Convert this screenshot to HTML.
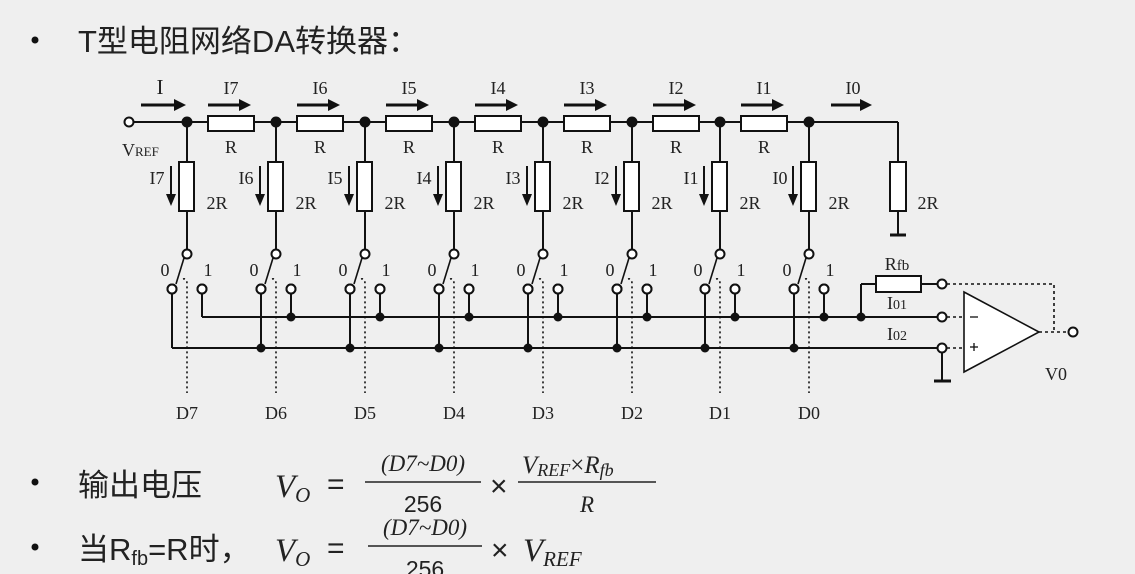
<!DOCTYPE html>
<html><head><meta charset="utf-8"><style>
html,body{margin:0;padding:0;background:#efefef;}
body{width:1135px;height:574px;overflow:hidden;position:relative;}
svg{position:absolute;left:0;top:0;}
.t{font-family:"Liberation Serif","Noto Serif CJK SC",serif;font-size:18px;fill:#222;}
.cn{font-family:"Liberation Sans","Noto Sans CJK SC",sans-serif;fill:#222;}
.m{font-family:"Liberation Serif",serif;font-style:italic;fill:#222;}
</style></head><body>
<svg width="1135" height="574" viewBox="0 0 1135 574">
<defs>
<g id="col" stroke="#111" stroke-width="2" fill="none">
  <line x1="0" y1="122" x2="0" y2="162"/>
  <rect x="-8" y="162" width="15" height="49" fill="#fff"/>
  <line x1="0" y1="211" x2="0" y2="250"/>
  <circle cx="0" cy="254" r="4.5" fill="#fff"/>
  <line x1="-3" y1="258" x2="-11" y2="284" stroke-width="1.6"/>
  <circle cx="-15" cy="289" r="4.5" fill="#fff"/>
  <circle cx="15" cy="289" r="4.5" fill="#fff"/>
  <path d="M-4,279 Q0,278 0,284 L0,393" stroke-dasharray="2,3" stroke-width="1.6"/>
  <line x1="-16" y1="166" x2="-16" y2="198"/>
  <polygon points="-21,194 -11,194 -16,206" fill="#111" stroke="none"/>
  <circle cx="0" cy="122" r="4.5" fill="#111"/>
</g>
<g id="ser" stroke="#111" stroke-width="2" fill="none">
  <rect x="21" y="116" width="46" height="15" fill="#fff"/>
  <line x1="21" y1="105" x2="54" y2="105" stroke-width="3"/>
  <polygon points="52,99 52,111 64,105" fill="#111" stroke="none"/>
</g>
</defs>

<circle cx="35" cy="40" r="3.5" fill="#111"/>
<text x="78" y="52" class="cn" font-size="31">T型电阻网络DA转换器：</text>

<g stroke="#111" stroke-width="2" fill="none">
<line x1="133" y1="122" x2="898" y2="122"/>
<line x1="898" y1="122" x2="898" y2="162"/>
<rect x="890" y="162" width="16" height="49" fill="#fff"/>
<line x1="898" y1="211" x2="898" y2="235"/>
<line x1="890" y1="235" x2="906" y2="235" stroke-width="3"/>
<circle cx="129" cy="122" r="4.5" fill="#fff"/>
<line x1="141" y1="105" x2="176" y2="105" stroke-width="3"/>
<line x1="831" y1="105" x2="862" y2="105" stroke-width="3"/>
<line x1="202" y1="294" x2="202" y2="317"/>
<line x1="202" y1="317" x2="938" y2="317"/>
<line x1="172" y1="294" x2="172" y2="348"/>
<line x1="172" y1="348" x2="938" y2="348"/>
<line x1="861" y1="317" x2="861" y2="284"/>
<line x1="861" y1="284" x2="876" y2="284"/>
<rect x="876" y="276" width="45" height="16" fill="#fff"/>
<line x1="921" y1="284" x2="938" y2="284"/>
<circle cx="942" cy="284" r="4.5" fill="#fff"/>
<circle cx="942" cy="317" r="4.5" fill="#fff"/>
<circle cx="942" cy="348" r="4.5" fill="#fff"/>
<line x1="942" y1="353" x2="942" y2="381"/>
<line x1="934" y1="381" x2="951" y2="381" stroke-width="3"/>
<polygon points="964,292 964,372 1039,332" fill="#fff" stroke-width="1.6"/>
<g stroke-dasharray="3,3" stroke-width="1.6">
<line x1="947" y1="317" x2="964" y2="317"/>
<line x1="947" y1="348" x2="964" y2="348"/>
<line x1="1039" y1="332" x2="1068" y2="332"/>
<polyline points="947,284 1054,284 1054,332"/>
</g>
<circle cx="1073" cy="332" r="4.5" fill="#fff"/>
<line x1="970" y1="317" x2="978" y2="317" stroke-width="1.3"/>
<line x1="970" y1="347" x2="978" y2="347" stroke-width="1.3"/>
<line x1="974" y1="343" x2="974" y2="351" stroke-width="1.3"/>
</g>
<polygon points="174,99 174,111 186,105" fill="#111"/>
<polygon points="860,99 860,111 872,105" fill="#111"/>

<use href="#col" x="187"/><use href="#col" x="276"/><use href="#col" x="365"/><use href="#col" x="454"/>
<use href="#col" x="543"/><use href="#col" x="632"/><use href="#col" x="720"/><use href="#col" x="809"/>
<use href="#ser" x="187"/><use href="#ser" x="276"/><use href="#ser" x="365"/><use href="#ser" x="454"/>
<use href="#ser" x="543"/><use href="#ser" x="632"/><use href="#ser" x="720"/>
<g stroke="#111" stroke-width="2">
<line x1="261" y1="294" x2="261" y2="348"/><line x1="291" y1="294" x2="291" y2="317"/>
<line x1="350" y1="294" x2="350" y2="348"/><line x1="380" y1="294" x2="380" y2="317"/>
<line x1="439" y1="294" x2="439" y2="348"/><line x1="469" y1="294" x2="469" y2="317"/>
<line x1="528" y1="294" x2="528" y2="348"/><line x1="558" y1="294" x2="558" y2="317"/>
<line x1="617" y1="294" x2="617" y2="348"/><line x1="647" y1="294" x2="647" y2="317"/>
<line x1="705" y1="294" x2="705" y2="348"/><line x1="735" y1="294" x2="735" y2="317"/>
<line x1="794" y1="294" x2="794" y2="348"/><line x1="824" y1="294" x2="824" y2="317"/>
</g>
<g fill="#111">
<circle cx="261" cy="348" r="4.5"/><circle cx="291" cy="317" r="4.5"/>
<circle cx="350" cy="348" r="4.5"/><circle cx="380" cy="317" r="4.5"/>
<circle cx="439" cy="348" r="4.5"/><circle cx="469" cy="317" r="4.5"/>
<circle cx="528" cy="348" r="4.5"/><circle cx="558" cy="317" r="4.5"/>
<circle cx="617" cy="348" r="4.5"/><circle cx="647" cy="317" r="4.5"/>
<circle cx="705" cy="348" r="4.5"/><circle cx="735" cy="317" r="4.5"/>
<circle cx="794" cy="348" r="4.5"/><circle cx="824" cy="317" r="4.5"/>
<circle cx="861" cy="317" r="4.5"/>
</g>
<g fill="#fff" stroke="#111" stroke-width="2">
<circle cx="172" cy="289" r="4.5"/><circle cx="202" cy="289" r="4.5"/>
<circle cx="261" cy="289" r="4.5"/><circle cx="291" cy="289" r="4.5"/>
<circle cx="350" cy="289" r="4.5"/><circle cx="380" cy="289" r="4.5"/>
<circle cx="439" cy="289" r="4.5"/><circle cx="469" cy="289" r="4.5"/>
<circle cx="528" cy="289" r="4.5"/><circle cx="558" cy="289" r="4.5"/>
<circle cx="617" cy="289" r="4.5"/><circle cx="647" cy="289" r="4.5"/>
<circle cx="705" cy="289" r="4.5"/><circle cx="735" cy="289" r="4.5"/>
<circle cx="794" cy="289" r="4.5"/><circle cx="824" cy="289" r="4.5"/>
</g>

<g class="t" text-anchor="middle">
<text x="160" y="94" font-size="21">I</text>
<text x="231" y="94">I7</text><text x="320" y="94">I6</text><text x="409" y="94">I5</text><text x="498" y="94">I4</text>
<text x="587" y="94">I3</text><text x="676" y="94">I2</text><text x="764" y="94">I1</text><text x="853" y="94">I0</text>
<text x="231" y="153">R</text><text x="320" y="153">R</text><text x="409" y="153">R</text><text x="498" y="153">R</text>
<text x="587" y="153">R</text><text x="676" y="153">R</text><text x="764" y="153">R</text>
<text x="157" y="184">I7</text><text x="246" y="184">I6</text><text x="335" y="184">I5</text><text x="424" y="184">I4</text>
<text x="513" y="184">I3</text><text x="602" y="184">I2</text><text x="691" y="184">I1</text><text x="780" y="184">I0</text>
<text x="217" y="209">2R</text><text x="306" y="209">2R</text><text x="395" y="209">2R</text><text x="484" y="209">2R</text>
<text x="573" y="209">2R</text><text x="662" y="209">2R</text><text x="750" y="209">2R</text><text x="839" y="209">2R</text>
<text x="928" y="209">2R</text>
<text x="165" y="276">0</text><text x="208" y="276">1</text><text x="254" y="276">0</text><text x="297" y="276">1</text>
<text x="343" y="276">0</text><text x="386" y="276">1</text><text x="432" y="276">0</text><text x="475" y="276">1</text>
<text x="521" y="276">0</text><text x="564" y="276">1</text><text x="610" y="276">0</text><text x="653" y="276">1</text>
<text x="698" y="276">0</text><text x="741" y="276">1</text><text x="787" y="276">0</text><text x="830" y="276">1</text>
<text x="187" y="419">D7</text><text x="276" y="419">D6</text><text x="365" y="419">D5</text><text x="454" y="419">D4</text>
<text x="543" y="419">D3</text><text x="632" y="419">D2</text><text x="720" y="419">D1</text><text x="809" y="419">D0</text>
<text x="897" y="270">R<tspan font-size="15">fb</tspan></text>
<text x="897" y="309">I<tspan font-size="14">01</tspan></text>
<text x="897" y="340">I<tspan font-size="14">02</tspan></text>
<text x="1056" y="380">V0</text>
</g>
<text x="122" y="156" class="t" font-size="21">V<tspan font-size="13">REF</tspan></text>

<circle cx="35" cy="482" r="3.5" fill="#111"/>
<text x="78" y="496" class="cn" font-size="31">输出电压</text>
<text x="275" y="497" class="m" font-size="33">V<tspan font-size="21" dy="5">O</tspan></text>
<text x="327" y="494" class="cn" font-size="30">=</text>
<text x="423" y="471" class="m" font-size="23" text-anchor="middle">(D7~D0)</text>
<line x1="365" y1="482" x2="481" y2="482" stroke="#222" stroke-width="1.6"/>
<text x="423" y="512" font-family="Liberation Sans,sans-serif" font-size="23" fill="#222" text-anchor="middle">256</text>
<text x="490" y="496" class="cn" font-size="30">×</text>
<text x="522" y="473" class="m" font-size="25">V<tspan font-size="18" dy="3">REF</tspan><tspan font-style="normal" dy="-3">×</tspan>R<tspan font-size="18" dy="3">fb</tspan></text>
<line x1="518" y1="482" x2="656" y2="482" stroke="#222" stroke-width="1.6"/>
<text x="587" y="512" class="m" font-size="23" text-anchor="middle">R</text>

<circle cx="35" cy="547" r="3.5" fill="#111"/>
<text x="78" y="560" class="cn" font-size="31">当R<tspan font-size="20" dy="5">fb</tspan><tspan dy="-5">=R时，</tspan></text>
<text x="275" y="561" class="m" font-size="33">V<tspan font-size="21" dy="5">O</tspan></text>
<text x="327" y="558" class="cn" font-size="30">=</text>
<text x="425" y="535" class="m" font-size="23" text-anchor="middle">(D7~D0)</text>
<line x1="368" y1="546" x2="482" y2="546" stroke="#222" stroke-width="1.6"/>
<text x="425" y="577" font-family="Liberation Sans,sans-serif" font-size="23" fill="#222" text-anchor="middle">256</text>
<text x="491" y="560" class="cn" font-size="30">×</text>
<text x="523" y="561" class="m" font-size="33">V<tspan font-size="21" dy="5">REF</tspan></text>
</svg>
</body></html>
